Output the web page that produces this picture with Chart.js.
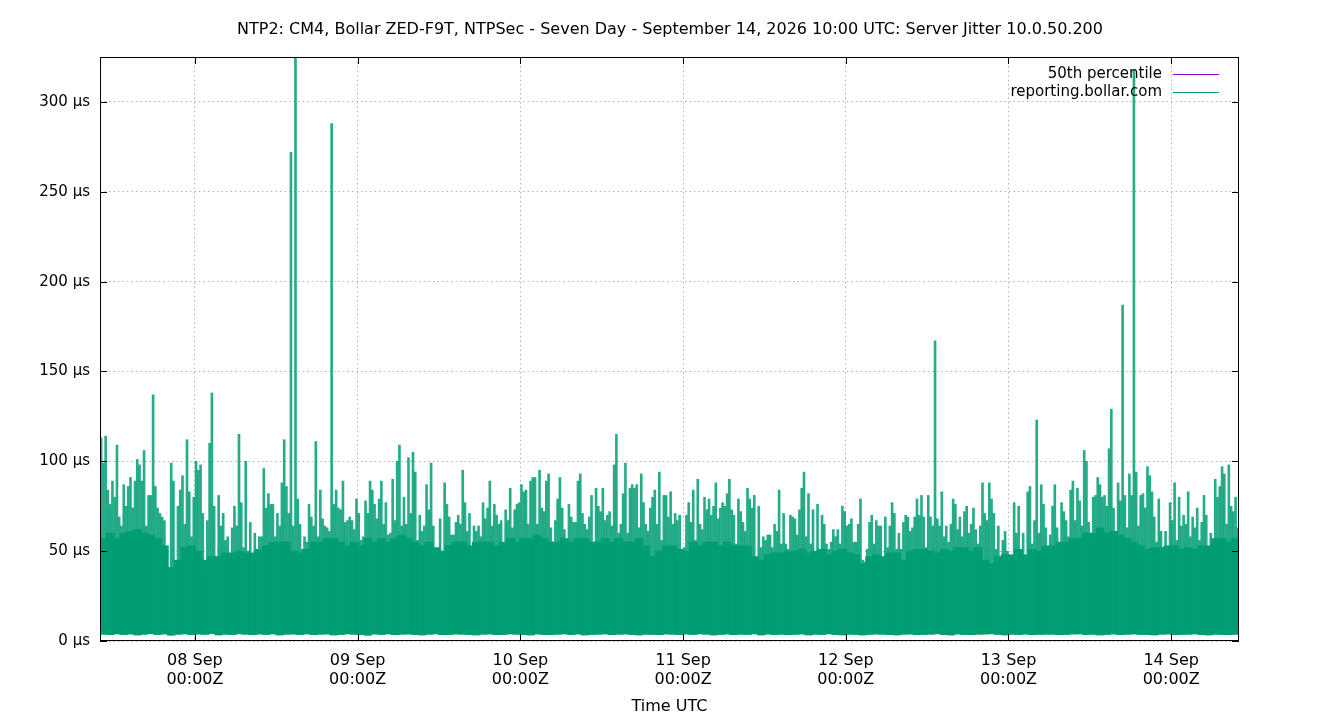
<!DOCTYPE html>
<html><head><meta charset="utf-8">
<script src="https://cdn.jsdelivr.net/npm/chart.js@4.4.1/dist/chart.umd.min.js"></script>
<style>html,body{margin:0;padding:0;background:#fff}canvas{display:block}</style>
</head><body>
<canvas id="c" width="1340" height="720"></canvas>
<script>
const titleText = 'NTP2: CM4, Bollar ZED-F9T, NTPSec - Seven Day - September 14, 2026 10:00 UTC: Server Jitter 10.0.50.200';
const xAxisTitle = 'Time UTC';
const seriesLabels = ['50th percentile', 'reporting.bollar.com'];
// x values are hours after 07 Sep 00:00Z
const startHour = 10;
const endHour = 178;
const binsPerHour = 3;
const dayTickHours = [24, 48, 72, 96, 120, 144, 168];
const dayLabels = ['08 Sep', '09 Sep', '10 Sep', '11 Sep', '12 Sep', '13 Sep', '14 Sep'];
const timeLabel = '00:00Z';
const yTickValues = [0, 50, 100, 150, 200, 250, 300];
const yMax = 325;
const percentile50 = 22;

// peak jitter (µs) per 20-minute bin
const peakJitter = [
113,99,114,84,76,89,80,109,69,64,87,75,86,91,74,89,101,98,89,106,64,81,81,137,86,74,71,69,67,45,
38,99,89,34,75,84,92,65,112,83,58,80,100,95,98,71,38,67,110,138,75,43,81,64,71,56,58,47,63,75,
64,115,77,52,100,50,66,45,60,49,58,58,96,74,82,76,76,58,71,64,88,112,86,71,
272,64,330,79,65,51,58,55,76,69,64,111,58,84,68,64,63,61,288,76,84,74,73,89,66,67,69,67,62,79,
71,56,58,78,71,89,84,76,68,79,89,65,77,59,60,90,67,100,109,64,80,65,102,71,105,94,56,70,61,64,
87,73,99,64,49,50,68,45,88,76,69,59,59,66,70,65,95,77,61,71,52,64,61,64,
58,77,68,74,89,64,76,70,65,67,54,73,67,85,63,73,76,77,87,83,84,65,89,91,91,65,95,74,72,89,
93,63,55,67,79,91,74,62,45,76,69,66,66,89,93,71,65,62,69,81,52,85,75,72,85,67,70,72,64,98,
115,60,65,82,99,60,85,87,85,87,63,93,77,65,61,74,80,84,65,94,56,81,81,69,
83,65,71,67,70,50,52,70,77,66,84,56,90,65,62,80,73,79,70,75,88,68,74,77,75,82,90,73,70,54,
79,72,66,61,85,79,74,81,38,75,52,58,56,59,59,52,65,61,84,54,71,54,51,70,69,68,59,73,85,94,
58,82,54,73,47,76,49,70,65,54,51,55,62,58,62,54,75,72,64,65,68,55,55,65,
79,45,44,51,66,70,54,67,64,64,45,69,52,64,77,71,51,60,51,66,70,69,61,63,69,79,70,81,69,52,
81,69,64,167,68,64,83,58,64,55,65,79,76,62,69,58,72,75,60,65,74,62,54,64,88,71,67,88,79,71,
51,64,39,56,61,50,44,44,77,60,75,50,60,47,83,86,54,67,123,60,87,76,63,52,
59,75,87,63,51,77,72,67,58,84,89,67,85,78,64,106,100,66,54,80,81,91,87,80,81,75,107,129,74,61,
88,78,187,81,63,93,81,318,94,64,81,82,74,97,92,83,69,55,79,61,51,61,52,77,67,88,56,80,64,70,
65,83,58,69,63,74,56,66,81,70,51,60,56,90,80,86,97,93,65,98,75,72,80,63
];

// top of the dense band (µs) per hour
const coreJitter = [
57,60,57,60,61,62,60,59,57,53,41,45,52,53,50,45,47,47,49,49,50,49,49,51,53,55,55,55,
50,49,51,55,55,57,57,55,53,55,53,57,55,57,55,57,59,57,55,53,55,52,50,53,55,55,53,55,
55,55,53,55,57,55,57,57,59,57,55,55,57,55,57,57,55,55,57,55,57,55,55,57,53,47,50,53,
53,51,50,55,53,55,55,53,55,53,53,53,47,45,48,49,49,50,50,51,49,50,51,48,50,51,49,48,
43,47,48,47,49,49,45,50,51,51,50,49,51,50,52,52,50,52,45,43,47,48,48,51,48,51,50,53,
53,55,55,57,57,60,60,63,60,61,59,57,55,53,51,52,52,53,53,51,52,51,53,53,57,57,55,57
];

// bottom of the band (µs) per hour
const lowJitter = [
3.8,3.5,4.0,3.7,3.9,3.4,3.8,4.1,3.6,3.9,3.3,3.8,4.0,3.5,3.9,3.7,4.1,3.4,3.8,3.6,4.0,3.8,3.5,3.9,3.7,4.0,3.4,3.8,
3.9,3.6,4.0,3.5,3.8,3.9,3.4,3.7,4.0,3.8,3.6,3.3,3.9,3.7,4.0,3.5,3.8,3.9,3.6,3.4,3.8,4.0,3.5,3.7,3.9,3.8,3.6,3.4,
3.8,3.9,3.5,3.7,4.0,3.8,3.6,3.4,3.9,3.7,3.5,3.8,4.0,3.6,3.9,3.4,3.7,3.8,4.0,3.5,3.8,3.9,3.6,3.4,3.8,3.7,3.5,3.9,
3.8,3.5,3.9,3.7,4.0,3.8,3.4,3.7,3.9,3.5,3.8,3.7,4.0,3.4,3.9,3.6,3.8,3.5,3.7,3.9,3.4,3.8,3.7,4.0,3.6,3.4,3.8,3.7,
3.4,3.7,3.9,3.8,3.6,3.4,3.8,3.9,3.5,3.7,3.8,4.0,3.6,3.4,3.9,3.7,3.5,3.8,3.9,4.0,3.7,3.4,3.8,3.6,3.9,3.5,3.7,3.8,
3.8,3.5,3.7,3.9,4.0,3.6,3.8,3.4,3.7,3.9,3.5,3.8,4.0,3.7,3.6,3.4,3.8,3.9,3.5,3.7,3.8,4.0,3.6,3.4,3.8,3.7,3.5,3.8
];

const GREEN = '#009e73';
const GREEN_SPIKE = 'rgba(0,158,115,0.85)';
const PURPLE = '#9400d3';
const FAMILY = "'DejaVu Sans', sans-serif";
const FONT = {family: FAMILY, size: 15};
const FONT16 = {family: FAMILY, size: 16};

const spikeData = peakJitter.map((v, i) => ({
  x: startHour + (i + 0.5) / binsPerHour,
  y: [lowJitter[Math.floor(i / binsPerHour)], v]
}));
const coreData = coreJitter.map((v, h) => ({x: startHour + h + 0.5, y: [lowJitter[h], v]}));

const framePlugin = {
  id: 'frame',
  afterDatasetsDraw(chart) {
    const {ctx, chartArea: a, scales: {x, y}} = chart;
    ctx.save();
    ctx.strokeStyle = '#000';
    ctx.lineWidth = 1;
    ctx.beginPath();
    x.ticks.forEach(t => {
      const px = Math.round(x.getPixelForValue(t.value)) + 0.5;
      ctx.moveTo(px, a.bottom); ctx.lineTo(px, a.bottom - 7);
      ctx.moveTo(px, a.top); ctx.lineTo(px, a.top + 7);
    });
    y.ticks.forEach(t => {
      const py = Math.round(y.getPixelForValue(t.value)) + 0.5;
      ctx.moveTo(a.left, py); ctx.lineTo(a.left + 7, py);
      ctx.moveTo(a.right, py); ctx.lineTo(a.right - 7, py);
    });
    ctx.stroke();
    ctx.strokeRect(Math.round(a.left) + 0.5, Math.round(a.top) + 0.5,
                   Math.round(a.right - a.left) - 1, Math.round(a.bottom - a.top) - 1);
    // legend (gnuplot style: text right-aligned, sample line to the right)
    ctx.font = "15px " + FAMILY;
    ctx.textAlign = 'right';
    ctx.textBaseline = 'middle';
    const items = chart.data.datasets.filter(d => d.inLegend);
    items.forEach((d, k) => {
      const ly = a.top + 17 + k * 18;
      ctx.fillStyle = '#000';
      ctx.fillText(d.label, a.right - 77, ly);
      ctx.strokeStyle = d.legendColor;
      ctx.beginPath();
      ctx.moveTo(a.right - 66, Math.round(ly) + 0.5);
      ctx.lineTo(a.right - 20, Math.round(ly) + 0.5);
      ctx.stroke();
    });
    ctx.restore();
  }
};

new Chart(document.getElementById('c'), {
  type: 'bar',
  data: {
    datasets: [
      {
        type: 'line', label: seriesLabels[0], inLegend: true, legendColor: PURPLE,
        data: [{x: startHour, y: percentile50}, {x: endHour, y: percentile50}],
        borderColor: PURPLE, borderWidth: 1, pointRadius: 0, order: 3
      },
      {
        label: seriesLabels[1], inLegend: false, data: coreData,
        backgroundColor: GREEN, borderWidth: 0, grouped: false, barThickness: 8, order: 2, clip: 0
      },
      {
        label: seriesLabels[1], inLegend: true, legendColor: GREEN, data: spikeData,
        backgroundColor: GREEN_SPIKE, borderWidth: 0, grouped: false, barThickness: 2, order: 1, clip: 0
      }
    ]
  },
  options: {
    responsive: false,
    animation: false,
    events: [],
    layout: {padding: 0},
    plugins: {
      legend: {display: false},
      tooltip: {enabled: false},
      title: {
        display: true, text: titleText, color: '#000',
        font: {family: FAMILY, size: 16, weight: 'normal', lineHeight: 1.2},
        padding: {top: 20, bottom: 17.8}
      }
    },
    scales: {
      x: {
        type: 'linear', min: startHour, max: endHour, offset: false,
        grid: {offset: false, drawTicks: false, color: 'rgba(0,0,0,0.3)', lineWidth: 1},
        border: {display: false, dash: [1.5, 3]},
        afterBuildTicks: s => { s.ticks = dayTickHours.map(v => ({value: v})); },
        afterFit: s => { s.height = 79; },
        ticks: {
          color: '#000', font: FONT16, padding: 10, maxRotation: 0, autoSkip: false,
          callback: v => [dayLabels[dayTickHours.indexOf(v)], timeLabel]
        },
        title: {display: true, text: xAxisTitle, color: '#000', font: FONT16, padding: {top: 0, bottom: 4}}
      },
      y: {
        type: 'linear', min: 0, max: yMax,
        grid: {drawTicks: false, color: 'rgba(0,0,0,0.3)', lineWidth: 1},
        border: {display: false, dash: [1.5, 3]},
        afterBuildTicks: s => { s.ticks = yTickValues.map(v => ({value: v})); },
        afterFit: s => { s.width = 100; },
        ticks: {color: '#000', font: FONT, padding: 10, callback: v => v + ' µs'}
      },
      yR: {
        type: 'linear', position: 'right', display: true,
        grid: {display: false, drawTicks: false},
        border: {display: false},
        ticks: {display: false},
        afterFit: s => { s.width = 101; }
      }
    }
  },
  plugins: [framePlugin]
});
</script>
</body></html>
